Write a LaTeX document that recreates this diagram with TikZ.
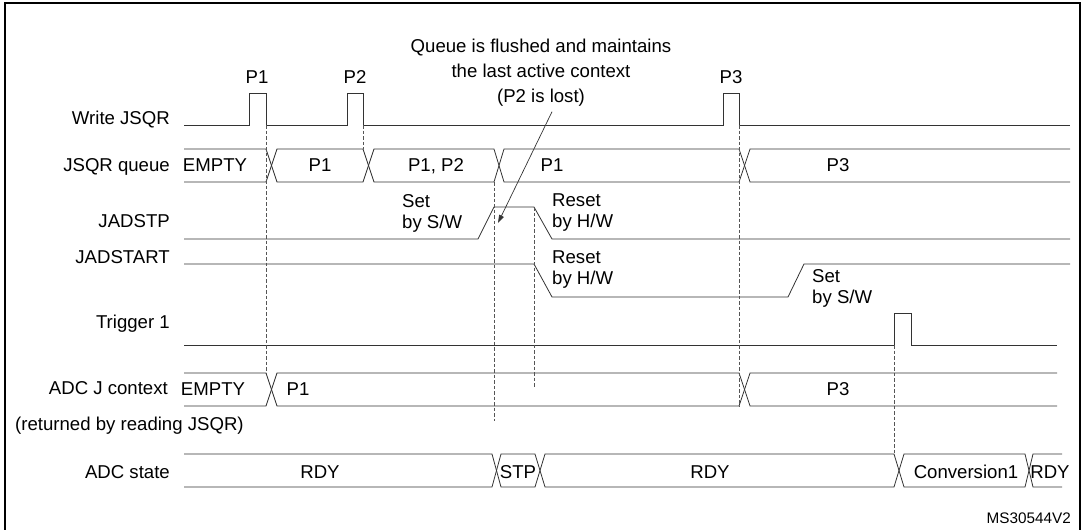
\documentclass[tikz,border=0pt]{standalone}
\usepackage{fontspec}
\setmainfont{Liberation Sans}
\usetikzlibrary{arrows.meta}
\definecolor{TdLine}{HTML}{333333}
\definecolor{TdGuide}{HTML}{555555}
\tikzset{
  tdLine/.style={line width=0.8pt, draw=TdLine},
  tdGuide/.style={dash pattern=on 3.5pt off 2pt, line width=0.7pt, draw=TdGuide},
  tdFrame/.style={line width=2.6pt, draw=black},
  sigLbl/.style={anchor=base east, inner sep=0pt},
  busLbl/.style={anchor=base, inner sep=0pt},
  noteLbl/.style={anchor=north west, inner sep=0pt, align=left},
}

\begin{document}
\begin{tikzpicture}[x=1pt, y=-1pt,
  font=\fontsize{18.6}{21}\selectfont,
  arr/.style={-{Triangle[length=8pt, width=5pt]}, line width=0.7pt, draw=TdLine},
]
  \useasboundingbox (0,0) rectangle (1082,530);
  \draw[tdFrame] (5,532) -- (5,3) -- (1080,3) -- (1080,532);

  % signal names
  \node[sigLbl] (lWrite) at (170,124) {Write JSQR};
  \node[sigLbl] (lQueue) at (170,171) {JSQR queue};
  \node[sigLbl] (lStp) at (170,227) {JADSTP};
  \node[sigLbl] (lStart) at (170,263) {JADSTART};
  \node[sigLbl] (lTrig) at (170,328) {Trigger 1};
  \node[sigLbl] (lCtx) at (168,394) {ADC J context};
  \node[anchor=base west, inner sep=0pt] (lCtxNote) at (15,430) {(returned by reading JSQR)};
  \node[sigLbl] (lState) at (170,478) {ADC state};

  % Write JSQR
  \node[busLbl] (pOne) at (257,83) {P1};
  \node[busLbl] (pTwo) at (355,83) {P2};
  \node[busLbl] (pThree) at (731,83) {P3};
  \draw[tdLine] (184,125) -- (249,125) -- (249,93) -- (266,93) -- (266,125)
    -- (347,125) -- (347,93) -- (363,93) -- (363,125)
    -- (723,125) -- (723,93) -- (739,93) -- (739,125) -- (1070,125);

  % JSQR queue
  \draw[tdLine] (184,149) -- (266,149) -- (277,182) -- (363,182) -- (374,149)
    -- (494,149) -- (504,182) -- (739,182) -- (750,149) -- (1070,149);
  \draw[tdLine] (184,182) -- (266,182) -- (277,149) -- (363,149) -- (374,182)
    -- (494,182) -- (504,149) -- (739,149) -- (750,182) -- (1070,182);
  \node[busLbl] (qEmpty) at (215,171) {EMPTY};
  \node[busLbl] (qOne) at (320,171) {P1};
  \node[busLbl] (qBoth) at (436,171) {P1, P2};
  \node[busLbl] (qOneB) at (552,171) {P1};
  \node[busLbl] (qThree) at (838,171) {P3};

  % JADSTP
  \draw[tdLine] (184,239) -- (478,239) -- (494,207) -- (534,207) -- (552,239) -- (1070,239);
  \node[noteLbl] (stpSet) at (402,194) {Set\\by S/W};
  \node[noteLbl] (stpReset) at (552,194) {Reset\\by H/W};

  % JADSTART
  \draw[tdLine] (184,264) -- (534,264) -- (552,297) -- (788,297) -- (804,264) -- (1070,264);
  \node[noteLbl] (startReset) at (552,251) {Reset\\by H/W};
  \node[noteLbl] (startSet) at (812,269) {Set\\by S/W};

  % Trigger 1
  \draw[tdLine] (184,345) -- (894,345) -- (894,313) -- (911,313) -- (911,345) -- (1057,345);

  % ADC J context
  \draw[tdLine] (184,373) -- (266,373) -- (277,406) -- (739,406) -- (750,373) -- (1057,373);
  \draw[tdLine] (184,406) -- (266,406) -- (277,373) -- (739,373) -- (750,406) -- (1057,406);
  \node[busLbl] (cEmpty) at (213,395) {EMPTY};
  \node[busLbl] (cOne) at (298,395) {P1};
  \node[busLbl] (cThree) at (838,395) {P3};

  % ADC state
  \draw[tdLine] (184,454) -- (492,454) -- (501,487) -- (535,487) -- (545,454)
    -- (894,454) -- (904,487) -- (1025,487) -- (1033,454) -- (1062,454);
  \draw[tdLine] (184,487) -- (492,487) -- (501,454) -- (535,454) -- (545,487)
    -- (894,487) -- (904,454) -- (1025,454) -- (1033,487) -- (1062,487);
  \node[busLbl] (sRdy) at (320,478) {RDY};
  \node[busLbl] (sStp) at (518,478) {STP};
  \node[busLbl] (sRdyB) at (710,478) {RDY};
  \node[busLbl] (sConv) at (966,478) {Conversion1};
  \node[busLbl] (sRdyC) at (1050,478) {RDY};

  % guides
  \draw[tdGuide] (266,125) -- (266,373);
  \draw[tdGuide] (363,125) -- (363,149);
  \draw[tdGuide] (494,182) -- (494,421);
  \draw[tdGuide] (534,207) -- (534,388);
  \draw[tdGuide] (739,125) -- (739,406);
  \draw[tdGuide] (894,345) -- (894,454);

  % flush note
  \node[anchor=north, inner sep=0pt, align=center, font=\fontsize{18.6}{25}\selectfont]
    (flushNote) at (541,39) {Queue is flushed and maintains\\the last active context\\(P2 is lost)};
  \coordinate (flushPt) at (498,223);
  \draw[arr] ([xshift=11pt, yshift=-5pt]flushNote.south) -- (flushPt);

  \node[anchor=base east, inner sep=0pt, font=\fontsize{15.3}{18}\selectfont] (figRef) at (1071,523) {MS30544V2};

\end{tikzpicture}
\end{document}
